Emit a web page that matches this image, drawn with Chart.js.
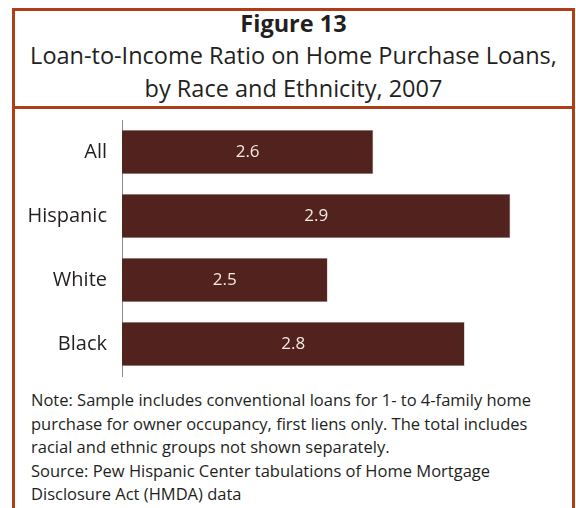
<!DOCTYPE html>
<html>
<head>
<meta charset="utf-8">
<script src="https://cdn.jsdelivr.net/npm/chart.js@4"></script>
<style>
  html, body { margin: 0; padding: 0; background: #fff; }
  body { width: 576px; height: 508px; overflow: hidden; position: relative; font-family: "Open Sans", sans-serif; color: #231f20; }
  .frame { position: absolute; left: 12px; top: 8px; width: 557px; height: 520px; border: 3px solid #ad3e18; border-bottom: none; }
  .divider { position: absolute; left: 12px; top: 106px; width: 563px; height: 3px; background: #ad3e18; }
  .title { position: absolute; left: 15px; width: 557px; text-align: center; white-space: nowrap; }
  #fig { top: 9px; font-size: 23.5px; font-weight: bold; line-height: 28px; }
  #sub { top: 39px; font-size: 23.5px; line-height: 33px; }
  #chartBox { position: absolute; left: 15px; top: 110px; width: 557px; height: 275px; }
  .note { position: absolute; left: 31px; top: 388px; font-size: 16.5px; line-height: 23.5px; white-space: nowrap; }
</style>
</head>
<body>
<div class="frame"></div>
<div class="divider"></div>
<div class="title" id="fig">Figure 13</div>
<div class="title" id="sub">Loan-to-Income Ratio on Home Purchase Loans,<br>by Race and Ethnicity, 2007</div>
<div id="chartBox"><canvas id="ratioChart"></canvas></div>
<div class="note">Note: Sample includes conventional loans for 1- to 4-family home<br>purchase for owner occupancy, first liens only. The total includes<br>racial and ethnic groups not shown separately.<br>Source: Pew Hispanic Center tabulations of Home Mortgage<br>Disclosure Act (HMDA) data</div>
<script>
const groups = ["All", "Hispanic", "White", "Black"];
const ratios = [2.6, 2.9, 2.5, 2.8];

// white numbers in the middle of each bar
const barLabels = {
  id: "barLabels",
  afterDatasetsDraw(chart) {
    const c = chart.ctx;
    const meta = chart.getDatasetMeta(0);
    const left = chart.chartArea.left;
    c.save();
    c.font = "17px 'Open Sans', sans-serif";
    c.fillStyle = "#f3e9e1";
    c.textAlign = "center";
    c.textBaseline = "middle";
    meta.data.forEach((bar, i) => {
      const start = Math.max(bar.base, left);
      c.fillText(ratios[i].toFixed(1), (bar.x + start) / 2, bar.y);
    });
    c.restore();
  },
};

const ctx = document.getElementById("ratioChart").getContext("2d");
new Chart(ctx, {
  type: "bar",
  data: {
    labels: groups,
    datasets: [
      {
        data: ratios,
        backgroundColor: "#52221f",
        borderColor: "#b89a94",
        borderWidth: 0.6,
        barPercentage: 0.69,
        categoryPercentage: 1,
      },
    ],
  },
  options: {
    indexAxis: "y",
    responsive: true,
    maintainAspectRatio: false,
    animation: false,
    layout: { padding: { top: 10, bottom: 9, right: 16, left: 0 } },
    plugins: { legend: { display: false }, tooltip: { enabled: false } },
    scales: {
      x: { display: false, min: 2.05, max: 3.0 },
      y: {
        grid: { display: false, drawTicks: false },
        border: { display: true, color: "#8c8c8c", width: 1 },
        ticks: { color: "#231f20", padding: 15, font: { family: "'Open Sans', sans-serif", size: 20 } },
        afterFit(scale) {
          scale.width = 107;
          scale.paddingTop = 0;
          scale.paddingBottom = 0;
        },
      },
    },
  },
  plugins: [barLabels],
});
</script>
</body>
</html>
